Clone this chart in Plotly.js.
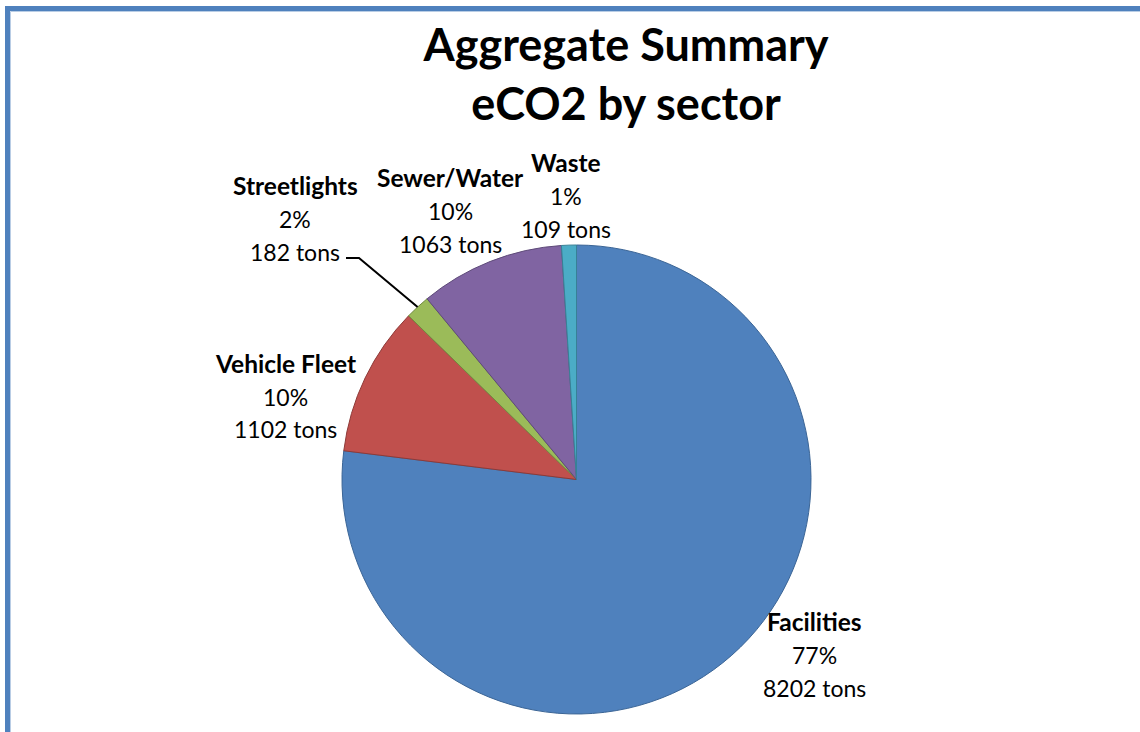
<!DOCTYPE html>
<html>
<head>
<meta charset="utf-8">
<script src="https://cdn.plot.ly/plotly-3.0.1.min.js"></script>
<style>html,body{margin:0;padding:0;background:#fff;}#chart{width:1140px;height:732px;}</style>
</head>
<body>
<div id="chart"></div>
<script>
// Data
const sectors = ["Facilities", "Vehicle Fleet", "Streetlights", "Sewer/Water", "Waste"];
const tons = [8202, 1102, 182, 1063, 109];
const colors = ["#4F81BD", "#C0504D", "#9BBB59", "#8064A2", "#4BACC6"];
const edgeColors = ["#3B6596", "#8E3A38", "#728B40", "#5E4A79", "#378196"];
const titleLines = ["Aggregate Summary", "eCO2 by sector"];
const unit = "tons";

// Label placement (pixel centres of the middle line)
const labelPos = [[814, 655], [285, 397], [295, 219], [450, 211], [566, 196]];
const lineGap = 32.5;

const W = 1140, H = 732;
const px = x => x / W;
const py = y => 1 - y / H;

const total = tons.reduce((a, b) => a + b, 0);
const pct = tons.map(v => Math.round(v / total * 100) + "%");

// pie geometry (pixels)
const cx = 576.5, cy = 479.5, R = 234.5;

const FONT = "Lato, 'Open Sans', sans-serif";
const annotations = [];
sectors.forEach((s, i) => {
  const lines = ["<b>" + s + "</b>", pct[i], tons[i] + " " + unit];
  lines.forEach((t, k) => {
    annotations.push({
      x: px(labelPos[i][0]), y: py(labelPos[i][1] + (k - 1) * lineGap - (k === 0 ? 1.5 : 0)),
      xref: "paper", yref: "paper", xanchor: "center", yanchor: "middle",
      showarrow: false, text: t,
      font: {family: FONT, size: k === 0 ? 24.5 : 23, color: "#000"}
    });
  });
});

// Leader line for Streetlights: from label to slice mid-point on rim
let cum = 0;
for (let i = 0; i < 2; i++) cum += tons[i];
const midFrac = (cum + tons[2] / 2) / total;
const ang = midFrac * 2 * Math.PI;
const rimX = cx + R * Math.sin(ang);
const rimY = cy - R * Math.cos(ang);
const leader = {
  type: "path", xref: "paper", yref: "paper",
  path: `M ${px(346)},${py(258)} L ${px(359)},${py(258)} L ${px(rimX)},${py(rimY)}`,
  line: {color: "#000", width: 2}
};

const border = {
  type: "path", xref: "paper", yref: "paper",
  path: `M ${px(7.5)},-0.05 L ${px(7.5)},${py(8.5)} L 1.05,${py(8.5)}`,
  line: {color: "#4F81BD", width: 5}
};
const borderInner = {
  type: "path", xref: "paper", yref: "paper",
  path: `M ${px(10.5)},-0.05 L ${px(10.5)},${py(11.5)} L 1.05,${py(11.5)}`,
  line: {color: "#B9CDE5", width: 1}
};

const trace = {
  type: "pie",
  labels: sectors,
  values: tons,
  sort: false,
  direction: "clockwise",
  rotation: 0,
  textinfo: "none",
  hoverinfo: "label+value+percent",
  marker: {colors: colors, line: {color: edgeColors, width: 1}},
  domain: {x: [px(cx - R), px(cx + R)], y: [py(cy + R), py(cy - R)]}
};

const layout = {
  width: W, height: H,
  margin: {l: 0, r: 0, t: 0, b: 0},
  paper_bgcolor: "#fff",
  showlegend: false,
  title: {
    text: "<b>" + titleLines.join("<br>") + "</b>",
    x: px(626), xref: "paper", xanchor: "center",
    y: py(61), yref: "paper", yanchor: "middle",
    font: {family: FONT, size: 45, color: "#000"}
  },
  annotations: annotations,
  shapes: [border, borderInner, leader]
};

Plotly.newPlot("chart", [trace], layout, {staticPlot: true, displayModeBar: false});
</script>
</body>
</html>
